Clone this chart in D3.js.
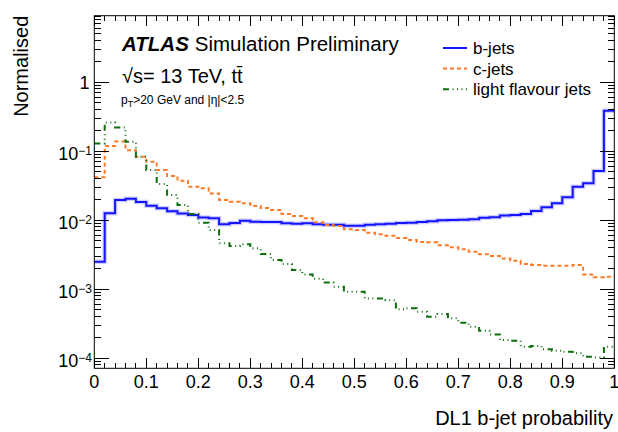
<!DOCTYPE html>
<html>
<head>
<meta charset="utf-8">
<script src="https://cdn.jsdelivr.net/npm/d3@7"></script>
<style>
  html, body { margin: 0; padding: 0; background: #fff; }
  text { font-family: "Liberation Sans", Arial, Helvetica, sans-serif; fill: #000; }
</style>
</head>
<body>
<div id="chart"></div>
<script>
// 50 bins of width 0.02 between 0 and 1
const binWidth = 0.02

const bjets = [
  0.00249, 0.0125, 0.0195, 0.0204, 0.0182, 0.0161, 0.0148, 0.0134, 0.0124, 0.0118,
  0.0109, 0.0106, 0.00865, 0.00905, 0.0098, 0.00946, 0.00936, 0.00936, 0.00896, 0.00886,
  0.00896, 0.00865, 0.00855, 0.00855, 0.00828, 0.00828, 0.00855, 0.00865, 0.00886, 0.00905,
  0.00915, 0.00936, 0.00957, 0.00989, 0.0100, 0.0101, 0.0103, 0.0108, 0.0110, 0.0116,
  0.0118, 0.0122, 0.0135, 0.0153, 0.0175, 0.0213, 0.0304, 0.034, 0.0513, 0.384
]

const cjets = [
  0.0415, 0.118, 0.137, 0.103, 0.0827, 0.070, 0.0531, 0.0434, 0.0371, 0.0304,
  0.0288, 0.0243, 0.0195, 0.0184, 0.0175, 0.0160, 0.0149, 0.0140, 0.0122, 0.0114,
  0.0106, 0.00925, 0.00847, 0.00819, 0.00733, 0.00716, 0.00655, 0.0062, 0.00593, 0.00548,
  0.00513, 0.0048, 0.00475, 0.0043, 0.00402, 0.00376, 0.00348, 0.0032, 0.0030, 0.00278,
  0.00257, 0.0023, 0.00223, 0.00218, 0.00218, 0.00218, 0.00223, 0.00163, 0.00148, 0.00151
]

const lightjets = [
  0.129, 0.26, 0.22, 0.136, 0.0828, 0.053, 0.0333, 0.023, 0.0165, 0.0122,
  0.00915, 0.00716, 0.0046, 0.0042, 0.00444, 0.00389, 0.00322, 0.00263, 0.0023, 0.00188,
  0.00163, 0.00141, 0.00124, 0.00108, 0.000915, 0.000915, 0.00073, 0.00073, 0.00069, 0.000508,
  0.000525, 0.000469, 0.000397, 0.000434, 0.000376, 0.000325, 0.000284, 0.000249, 0.00022, 0.000182,
  0.000178, 0.000146, 0.000149, 0.000134, 0.000128, 0.000123, 0.000117, 0.000104, 0.000102, 0.000146
]

const xMajorTicks = [0, 0.1, 0.2, 0.3, 0.4, 0.5, 0.6, 0.7, 0.8, 0.9, 1]
const xTickLabels = ['0', '0.1', '0.2', '0.3', '0.4', '0.5', '0.6', '0.7', '0.8', '0.9', '1']
const yMajorTicks = [1e-4, 1e-3, 1e-2, 1e-1, 1]
const yExponents = ['\u22124', '\u22123', '\u22122', '\u22121', null]

const legendItems = ['b-jets', 'c-jets', 'light flavour jets']

const width = 618
const height = 432
const frame = { left: 94.3, right: 614.3, top: 15.7, bottom: 368.3 }

const svg = d3
  .select('#chart')
  .append('svg')
  .attr('width', width)
  .attr('height', height)

const x = d3.scaleLinear().domain([0, 1]).range([frame.left, frame.right])
const y = d3.scaleLog().domain([7.1e-5, 9.14]).range([frame.bottom, frame.top])

const series = [
  { name: legendItems[0], values: bjets, color: '#1414ff', dash: null, band: true },
  { name: legendItems[1], values: cjets, color: '#ff7a26', dash: '4,3', band: false },
  { name: legendItems[2], values: lightjets, color: '#0c6e0c', dash: '6,3.5,1,3.5,1,3.5,1,3.5', band: false }
]

const stepLine = d3
  .line()
  .x(d => x(d[0]))
  .y(d => y(d[1]))
  .curve(d3.curveStepAfter)

function stepPoints(values) {
  const pts = values.map((v, i) => [i * binWidth, v])
  pts.push([1, values[values.length - 1]])
  return pts
}

const plot = svg.append('g')

series.forEach(s => {
  if (s.band) {
    // light uncertainty band behind the b-jet line
    plot
      .append('path')
      .attr('d', stepLine(stepPoints(s.values)))
      .attr('fill', 'none')
      .attr('stroke', '#a8a8ff')
      .attr('stroke-opacity', 0.55)
      .attr('stroke-width', 4.5)
  }
  plot
    .append('path')
    .attr('d', stepLine(stepPoints(s.values)))
    .attr('fill', 'none')
    .attr('stroke', s.color)
    .attr('stroke-width', 2)
    .attr('stroke-dasharray', s.dash)
})

// frame
svg
  .append('rect')
  .attr('x', frame.left)
  .attr('y', frame.top)
  .attr('width', frame.right - frame.left)
  .attr('height', frame.bottom - frame.top)
  .attr('fill', 'none')
  .attr('stroke', '#000')
  .attr('stroke-width', 1)

// x ticks (bottom and top)
const xMinor = d3.range(0, 51).map(i => i * binWidth)
const ticks = svg.append('g').attr('stroke', '#000').attr('stroke-width', 1).attr('shape-rendering', 'crispEdges')

xMinor.forEach(v => {
  const isMajor = Math.abs(v * 10 - Math.round(v * 10)) < 1e-6
  const len = isMajor ? 10 : 5
  ticks.append('line').attr('x1', x(v)).attr('x2', x(v)).attr('y1', frame.bottom).attr('y2', frame.bottom - len)
  ticks.append('line').attr('x1', x(v)).attr('x2', x(v)).attr('y1', frame.top).attr('y2', frame.top + len)
})

// y ticks (left and right)
const yMinor = []
for (let e = -5; e <= 0; e++) {
  for (let k = 2; k <= 9; k++) {
    const v = k * Math.pow(10, e)
    if (v > y.domain()[0] && v < y.domain()[1]) yMinor.push(v)
  }
}
yMinor.forEach(v => {
  ticks.append('line').attr('x1', frame.left).attr('x2', frame.left + 7).attr('y1', y(v)).attr('y2', y(v))
  ticks.append('line').attr('x1', frame.right).attr('x2', frame.right - 6).attr('y1', y(v)).attr('y2', y(v))
})
yMajorTicks.forEach(v => {
  ticks.append('line').attr('x1', frame.left).attr('x2', frame.left + 15).attr('y1', y(v)).attr('y2', y(v))
  ticks.append('line').attr('x1', frame.right).attr('x2', frame.right - 14).attr('y1', y(v)).attr('y2', y(v))
})

// x tick labels
svg
  .selectAll('.xlabel')
  .data(xMajorTicks)
  .enter()
  .append('text')
  .attr('class', 'xlabel')
  .attr('x', d => x(d))
  .attr('y', 388)
  .attr('text-anchor', 'middle')
  .attr('font-size', 18)
  .text((d, i) => xTickLabels[i])

// y tick labels
yMajorTicks.forEach((v, i) => {
  const t = svg.append('text').attr('text-anchor', 'end').attr('font-size', 18)
  if (yExponents[i] === null) {
    t.attr('x', 89.5).attr('y', y(v) + 7).text('1')
  } else {
    t.attr('x', 92).attr('y', y(v) + 9)
    t.append('tspan').text('10')
    t.append('tspan').attr('font-size', 12).attr('dy', -5).text(yExponents[i])
  }
})

// axis titles
svg
  .append('text')
  .attr('x', 613)
  .attr('y', 425)
  .attr('text-anchor', 'end')
  .attr('font-size', 20)
  .text('DL1 b-jet probability')

svg
  .append('text')
  .attr('transform', 'translate(28,15.7) rotate(-90)')
  .attr('text-anchor', 'end')
  .attr('font-size', 20)
  .text('Normalised')

// ATLAS labels
const atlas = svg.append('text').attr('x', 122).attr('y', 51).attr('font-size', 20.5)
atlas.append('tspan').attr('font-weight', 'bold').attr('font-style', 'italic').text('ATLAS')
atlas.append('tspan').attr('dx', 6).text('Simulation Preliminary')

svg
  .append('text')
  .attr('x', 122)
  .attr('y', 82.5)
  .attr('font-size', 20)
  .text('\u221As= 13 TeV, tt\u0304')

const cut = svg.append('text').attr('x', 121).attr('y', 103.5).attr('font-size', 12)
cut.append('tspan').text('p')
cut.append('tspan').attr('font-size', 9).attr('dy', 3).text('T')
cut.append('tspan').attr('dy', -3).text('>20 GeV and |\u03B7|<2.5')

// legend
const legend = svg.append('g')
series.forEach((s, i) => {
  const ly = 48 + i * 20.6
  legend
    .append('line')
    .attr('x1', 443)
    .attr('x2', 467)
    .attr('y1', ly)
    .attr('y2', ly)
    .attr('stroke', s.color)
    .attr('stroke-width', 2)
    .attr('stroke-dasharray', s.dash)
  legend
    .append('text')
    .attr('x', 473)
    .attr('y', ly + 6)
    .attr('font-size', 17)
    .text(s.name)
})
</script>
</body>
</html>
